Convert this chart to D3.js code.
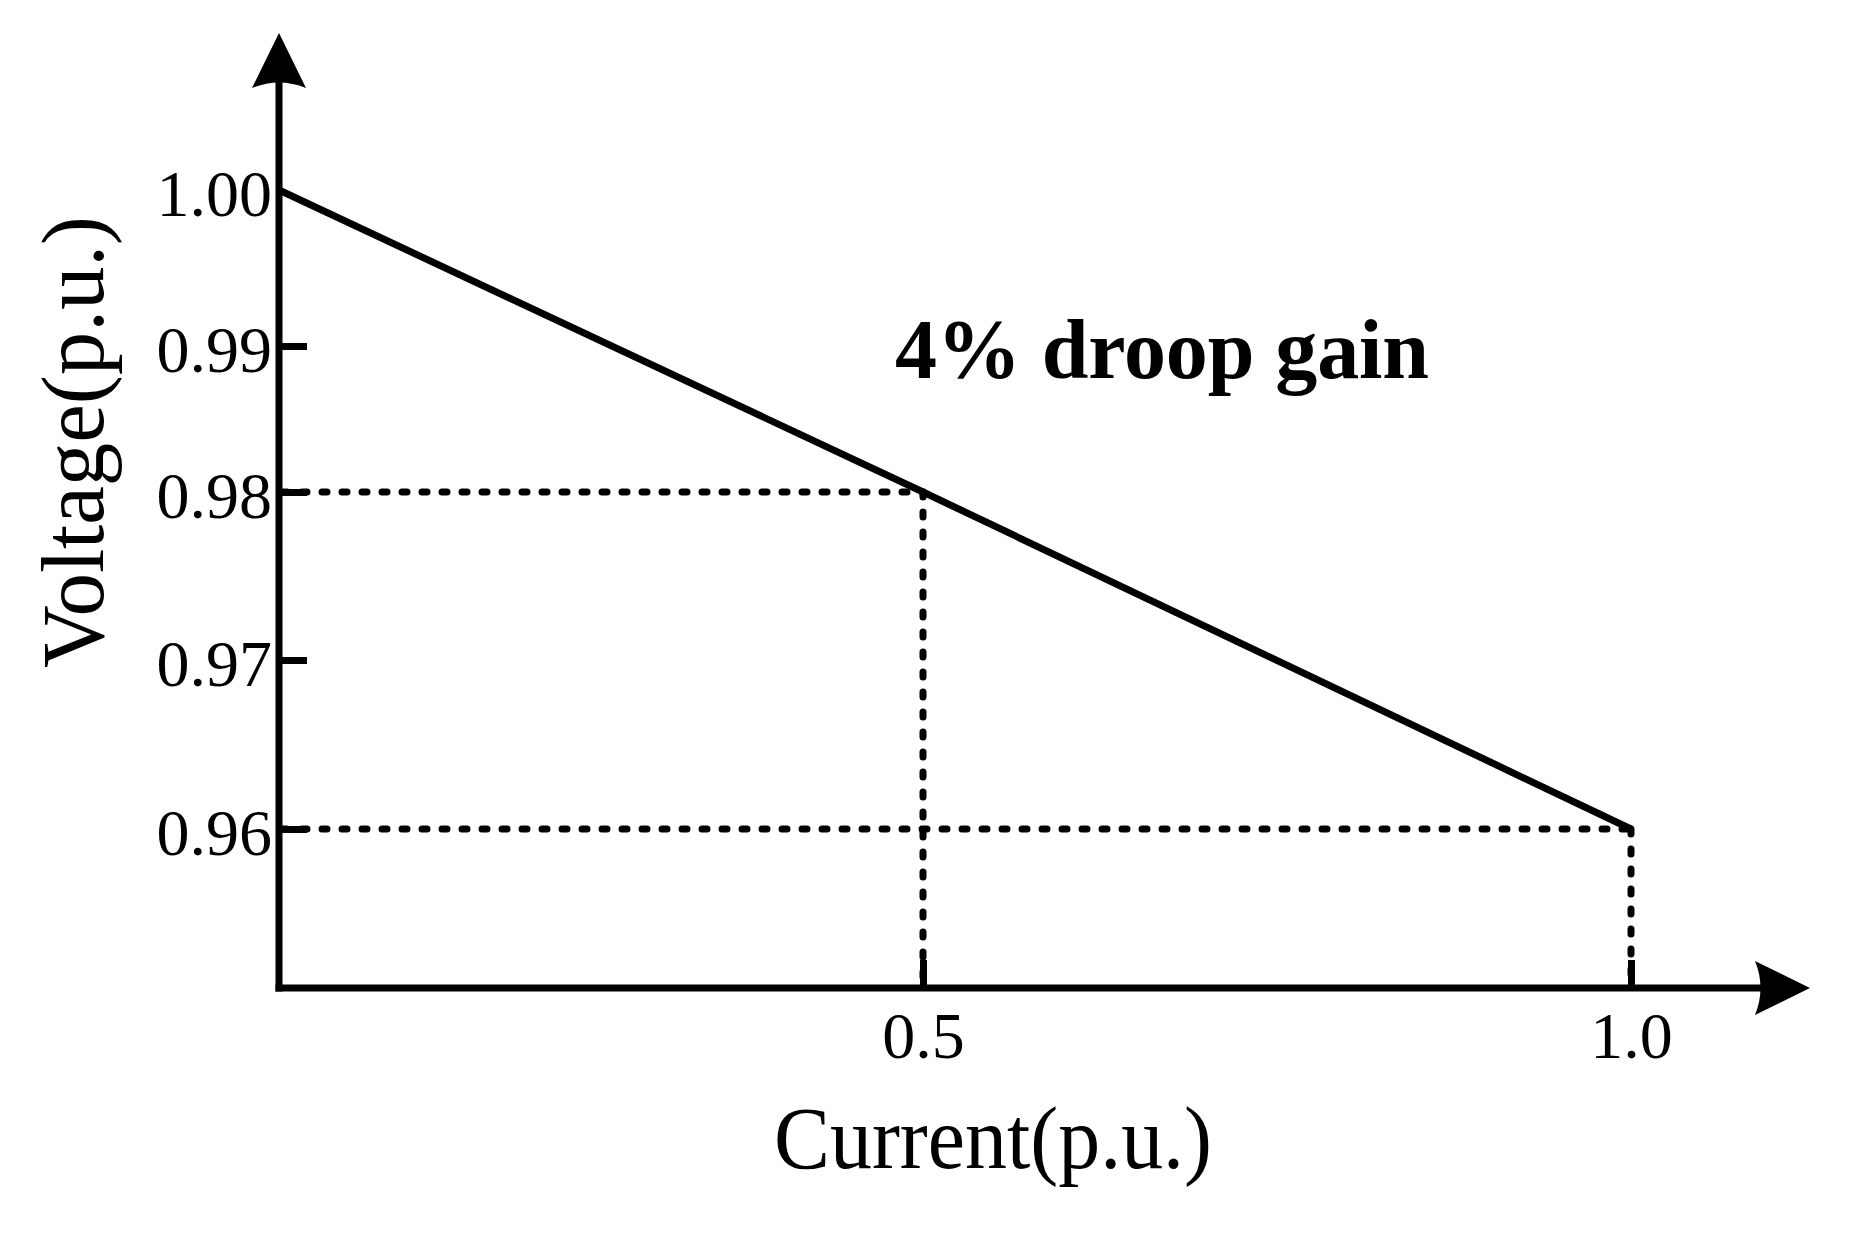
<!DOCTYPE html>
<html>
<head>
<meta charset="utf-8">
<script src="https://cdnjs.cloudflare.com/ajax/libs/d3/7.8.5/d3.min.js"></script>
<style>
  html, body { margin: 0; padding: 0; background: #fff; }
  svg text { font-family: "Liberation Serif", "Times New Roman", serif; fill: #000; }
</style>
</head>
<body>
<div id="chart"></div>
<script>
// droop characteristic (p.u.)
var current = [0, 0.5, 1.0];
var voltage = [1.00, 0.98, 0.96];
var guideIdx = [1, 2];            // points with dashed guides
var yTicks = [1.00, 0.99, 0.98, 0.97, 0.96];
var xTicks = [0.5, 1.0];
var annotation = "4% droop gain";
var xTitle = "Current(p.u.)";
var yTitle = "Voltage(p.u.)";

var w = 1849,
	h = 1233,
	ox = 279,    // axis origin
	oy = 988;

var svg = d3.select("#chart")
	.append("svg")
	.attr("width", w)
	.attr("height", h);

// the original drawing is not evenly spaced, so use polylinear scales
var x = d3.scaleLinear()
	.domain([0, 0.5, 1.0])
	.range([ox, 923, 1631]);

var y = d3.scaleLinear()
	.domain([1.00, 0.99, 0.98, 0.97, 0.96])
	.range([190, 346, 492, 660, 829]);

// arrow heads
svg.append("defs").append("marker")
	.attr("id", "arrow")
	.attr("viewBox", "-20 -30 64 60")
	.attr("markerWidth", 64)
	.attr("markerHeight", 60)
	.attr("markerUnits", "userSpaceOnUse")
	.attr("refX", 0)
	.attr("refY", 0)
	.attr("orient", "auto")
	.append("path")
	.attr("d", "M40,0 L-15,-27 Q-4,0 -15,27 Z")
	.attr("fill", "#000");

// dashed guides
var guides = svg.append("g")
	.attr("fill", "none")
	.attr("stroke", "#000")
	.attr("stroke-width", 7)
	.attr("stroke-linecap", "round")
	.attr("stroke-dasharray", "5,15");

guideIdx.forEach(function(i){
	guides.append("line")
		.attr("x1", x(0) + 3).attr("y1", y(voltage[i]))
		.attr("x2", x(current[i])).attr("y2", y(voltage[i]));
	guides.append("line")
		.attr("x1", x(current[i])).attr("y1", y(voltage[i]))
		.attr("x2", x(current[i])).attr("y2", oy);
});

// droop line
var line = d3.line()
	.x(function(d, i){ return x(current[i]); })
	.y(function(d){ return y(d); });

svg.append("path")
	.datum(voltage)
	.attr("d", line)
	.attr("fill", "none")
	.attr("stroke", "#000")
	.attr("stroke-width", 7);

// axes
var yAxis = d3.axisLeft(y)
	.tickValues(yTicks)
	.tickSize(-28)
	.tickPadding(7)
	.tickFormat(d3.format(".2f"));

var xAxis = d3.axisBottom(x)
	.tickValues(xTicks)
	.tickSize(-28)
	.tickPadding(23)
	.tickFormat(d3.format(".1f"));

var gy = svg.append("g")
	.attr("transform", "translate(" + ox + ",0)")
	.call(yAxis);

var gx = svg.append("g")
	.attr("transform", "translate(0," + oy + ")")
	.call(xAxis);

[gx, gy].forEach(function(g){
	g.select(".domain").remove();
	g.selectAll(".tick line").attr("stroke", "#000").attr("stroke-width", 7);
	g.selectAll(".tick text")
		.attr("font-family", "Liberation Serif, Times New Roman, serif")
		.attr("font-size", 66)
		.attr("fill", "#000");
});
gy.selectAll(".tick text").attr("dy", "0.39em");
// no tick mark where the droop line starts
gy.selectAll(".tick").filter(function(d){ return d === 1.00; }).select("line").remove();

// axis lines with arrows
svg.append("line")
	.attr("x1", ox).attr("y1", oy + 3.5)
	.attr("x2", ox).attr("y2", 73)
	.attr("stroke", "#000").attr("stroke-width", 7)
	.attr("marker-end", "url(#arrow)");

svg.append("line")
	.attr("x1", ox - 3.5).attr("y1", oy)
	.attr("x2", 1770).attr("y2", oy)
	.attr("stroke", "#000").attr("stroke-width", 7)
	.attr("marker-end", "url(#arrow)");

// texts
svg.append("text")
	.attr("x", 895)
	.attr("y", 378)
	.attr("font-size", 84)
	.attr("font-weight", "bold")
	.attr("textLength", 534)
	.attr("lengthAdjust", "spacing")
	.text(annotation);

svg.append("text")
	.attr("x", 774)
	.attr("y", 1168)
	.attr("font-size", 88)
	.attr("textLength", 438)
	.attr("lengthAdjust", "spacingAndGlyphs")
	.text(xTitle);

svg.append("text")
	.attr("transform", "translate(103,668) rotate(-90)")
	.attr("font-size", 88)
	.attr("textLength", 452)
	.attr("lengthAdjust", "spacingAndGlyphs")
	.text(yTitle);
</script>
</body>
</html>
